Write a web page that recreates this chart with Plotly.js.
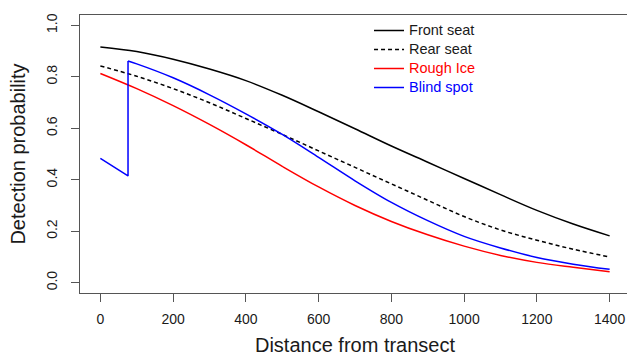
<!DOCTYPE html>
<html>
<head>
<meta charset="utf-8">
<script src="https://cdn.plot.ly/plotly-3.0.1.min.js"></script>
<style>
html, body { margin: 0; padding: 0; overflow: hidden; background: #fff; }
#chart { width: 640px; height: 356px; }
</style>
</head>
<body>
<div id="chart"></div>
<script>
// Distance values (m) at which curves were read
const distances = [0, 100, 200, 300, 400, 500, 600, 700, 800, 900, 1000, 1100, 1200, 1300, 1400];
const frontSeat = [0.916, 0.898, 0.868, 0.830, 0.785, 0.728, 0.664, 0.598, 0.531, 0.468, 0.405, 0.342, 0.281, 0.228, 0.182];
const rearSeat  = [0.842, 0.802, 0.754, 0.699, 0.638, 0.576, 0.512, 0.448, 0.384, 0.320, 0.257, 0.205, 0.165, 0.130, 0.100];
const roughIce  = [0.813, 0.754, 0.688, 0.615, 0.536, 0.452, 0.372, 0.300, 0.238, 0.186, 0.142, 0.106, 0.079, 0.060, 0.043];
// Blind spot: short segment inside the blind zone, then the jump
const blindNearX = [0, 76, 76];
const blindNearY = [0.483, 0.415, 0.861];
const blindFarX  = [76, 100, 200, 300, 400, 500, 600, 700, 800, 900, 1000, 1100, 1200, 1300, 1400];
const blindFarY  = [0.861, 0.850, 0.796, 0.730, 0.656, 0.576, 0.487, 0.396, 0.312, 0.241, 0.180, 0.135, 0.098, 0.072, 0.052];

const xTicks = [0, 200, 400, 600, 800, 1000, 1200, 1400];
const yTicks = [0, 0.2, 0.4, 0.6, 0.8, 1.0];
const yTickText = ['0.0', '0.2', '0.4', '0.6', '0.8', '1.0'];

const FONT = 'Liberation Sans, Arial, sans-serif';
const big = s => '<span style="font-size:14.5px">' + s + '</span>';

const traces = [
  { x: distances, y: frontSeat, mode: 'lines', name: big('Front seat'),
    line: { color: '#000000', width: 1.5, shape: 'spline', smoothing: 1 } },
  { x: distances, y: rearSeat, mode: 'lines', name: big('Rear seat'),
    line: { color: '#000000', width: 1.5, dash: '4px,3px', shape: 'spline', smoothing: 1 } },
  { x: distances, y: roughIce, mode: 'lines', name: '<span style="color:#ff0000;font-size:14.5px">Rough Ice</span>',
    line: { color: '#ff0000', width: 1.5, shape: 'spline', smoothing: 1 } },
  { x: blindNearX, y: blindNearY, mode: 'lines', name: '<span style="color:#0000ff;font-size:14.5px">Blind spot</span>',
    legendgroup: 'blind',
    line: { color: '#0000ff', width: 1.5 } },
  { x: blindFarX, y: blindFarY, mode: 'lines', name: 'Blind spot', showlegend: false,
    legendgroup: 'blind',
    line: { color: '#0000ff', width: 1.5, shape: 'spline', smoothing: 1 } }
];

const layout = {
  width: 640, height: 356,
  margin: { l: 80, r: 10, t: 15, b: 63 },
  paper_bgcolor: '#ffffff', plot_bgcolor: '#ffffff',
  font: { family: FONT, color: '#1a1a1a', size: 14 },
  showlegend: true,
  legend: {
    x: 0.5255, y: 0.9964, xanchor: 'left', yanchor: 'top',
    bgcolor: 'rgba(0,0,0,0)', borderwidth: 0,
    font: { family: FONT, size: 12, color: '#1a1a1a' },
    tracegroupgap: 0
  },
  xaxis: {
    range: [-56, 1456], tickvals: xTicks, ticks: 'outside', ticklen: 8,
    tickcolor: '#555555', tickwidth: 1,
    showline: true, mirror: true, linecolor: '#555555', linewidth: 1.2,
    showgrid: false, zeroline: false,
    tickfont: { family: FONT, size: 14, color: '#1a1a1a' },
    ticklabelstandoff: 5,
    title: { text: 'Distance from transect', font: { family: FONT, size: 20, color: '#1a1a1a' }, standoff: 12 }
  },
  yaxis: {
    range: [-0.04, 1.04], tickvals: yTicks, ticktext: yTickText, ticks: 'outside', ticklen: 8,
    tickcolor: '#555555', tickwidth: 1, tickangle: -90,
    showline: true, mirror: true, linecolor: '#555555', linewidth: 1.2,
    showgrid: false, zeroline: false,
    tickfont: { family: FONT, size: 14, color: '#1a1a1a' },
    ticklabelstandoff: 8,
    title: { text: 'Detection probability', font: { family: FONT, size: 20, color: '#1a1a1a' }, standoff: 13 }
  }
};

Plotly.newPlot('chart', traces, layout, { displayModeBar: false, staticPlot: true });
</script>
</body>
</html>
